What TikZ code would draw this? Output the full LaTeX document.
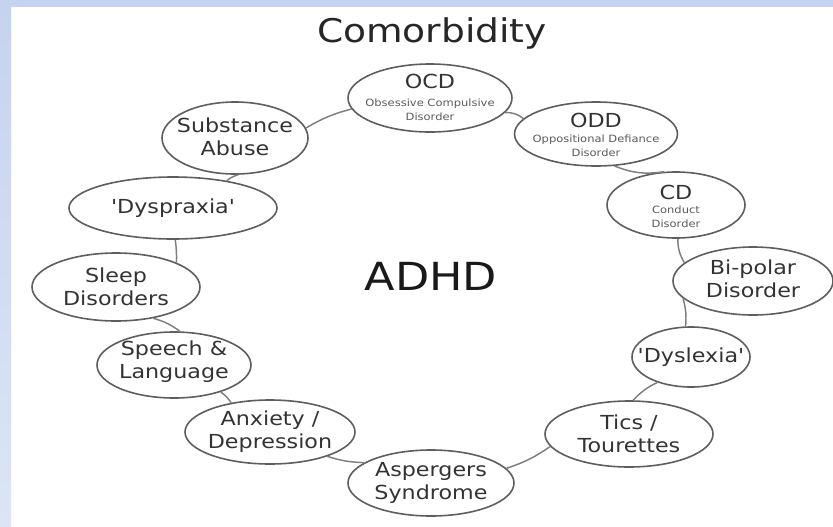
\documentclass[tikz,border=0pt]{standalone}
\usepackage{fontspec}
\newfontfamily\lab[FakeStretch=1.15]{DejaVu Sans}
\usetikzlibrary{shapes.geometric}
\definecolor{edge}{HTML}{5E5E5E}
\definecolor{conn}{HTML}{7E7E7E}
\definecolor{txt}{HTML}{333333}
\definecolor{bluea}{HTML}{C6D3EE}
\definecolor{blueb}{HTML}{DDE5F4}
\begin{document}
\begin{tikzpicture}[x=0.75pt,y=-0.75pt,
  oval/.style={ellipse, draw=edge, line width=1.2pt, fill=white, inner sep=0pt},
  sz/.style 2 args={minimum width=#1*0.75pt, minimum height=#2*0.75pt},
  lbl/.style={font=\lab\fontsize{14.5}{17.3}\selectfont, text=txt, align=center, inner sep=0pt},
  small/.style={font=\lab\fontsize{7.5}{10.5}\selectfont, text=txt!80, align=center, inner sep=0pt},
  link/.style={draw=conn, line width=1.1pt}]
\useasboundingbox (0,0) rectangle (833,526);
\fill[white] (0,0) rectangle (833,526);
\shade[top color=bluea, bottom color=blueb] (0,0) rectangle (11,526);
\fill[bluea] (0,0) rectangle (833,7);

\node[font=\lab\fontsize{24.5}{28}\selectfont, text=black!85, inner sep=0pt] (title) at (432,33) {Comorbidity};
\node[font=\lab\fontsize{29}{32}\selectfont, text=black!90, inner sep=0pt] (adhd) at (431,276) {ADHD};

% ellipses
\node[oval, sz={164}{68}] (ocd) at (430,98) {};
\node[oval, sz={163}{64}] (odd) at (596,134) {};
\node[oval, sz={138}{66}] (cd) at (676,205) {};
\node[oval, sz={160}{68}] (bip) at (753,281) {};
\node[oval, sz={118}{60}] (dlx) at (691,357) {};
\node[oval, sz={168}{66}] (tic) at (629,434) {};
\node[oval, sz={166}{66}] (asp) at (431,483) {};
\node[oval, sz={170}{64}] (anx) at (270,432) {};
\node[oval, sz={154}{66}] (spl) at (174,365) {};
\node[oval, sz={168}{68}] (slp) at (116,287) {};
\node[oval, sz={208}{62}] (dpx) at (173,208) {};
\node[oval, sz={146}{72}] (sub) at (235,138) {};

% texts
\node[lbl] (ocdt) at (430,81) {OCD};
\node[small] (ocds) at (430,110) {Obsessive Compulsive\\Disorder};
\node[lbl] (oddt) at (596,120) {ODD};
\node[small] (odds) at (596,146) {Oppositional Defiance\\Disorder};
\node[lbl] (cdt) at (676,192) {CD};
\node[small] (cds) at (676,217) {Conduct\\Disorder};
\node[lbl] (bipt) at (753,279) {Bi-polar\\Disorder};
\node[lbl] (dlxt) at (691,357) {'Dyslexia'};
\node[lbl] (tict) at (629,434) {Tics /\\Tourettes};
\node[lbl] (aspt) at (431,483) {Aspergers\\Syndrome};
\node[lbl] (anxt) at (270,432) {Anxiety /\\Depression};
\node[lbl] (splt) at (174,362) {Speech \&\\Language};
\node[lbl] (slpt) at (116,287) {Sleep\\Disorders};
\node[lbl] (dpxt) at (173,208) {'Dyspraxia'};
\node[lbl] (subt) at (235,137) {Substance\\Abuse};

% connectors
\draw[link] (sub.8) to[bend left=8] (ocd.188);
\draw[link] (ocd.349) to[bend left=20] (odd.168);
\draw[link] (odd.-60) to[bend right=15] (cd.110);
\draw[link] (cd.-87) to[bend right=15] (bip.165);
\draw[link] (bip.194) to[bend left=10] (dlx.100);
\draw[link] (dlx.217) to[bend right=10] (tic.83);
\draw[link] (tic.189) to[bend left=8] (asp.11);
\draw[link] (asp.163) to[bend left=8] (anx.-23);
\draw[link] (spl.-30) to[bend left=10] (anx.143);
\draw[link] (slp.-40) to[bend left=10] (spl.80);
\draw[link] (dpx.-86) to[bend left=5] (slp.22);
\draw[link] (dpx.27) to[bend left=10] (sub.-85);
\end{tikzpicture}
\end{document}
